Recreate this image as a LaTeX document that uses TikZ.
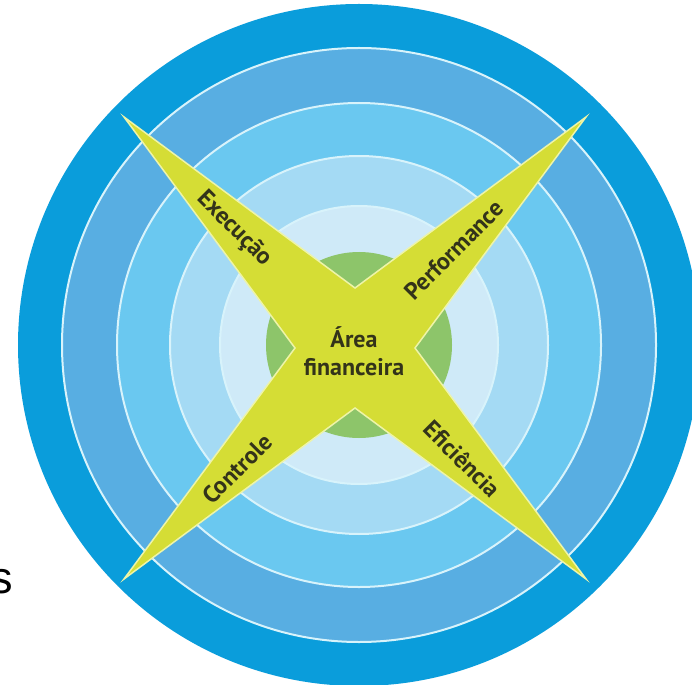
\documentclass[tikz,border=0pt]{standalone}
\usepackage{fontspec}
\newfontfamily\labelfont{PT Sans}
\newfontfamily\strayfont{Liberation Sans}
\definecolor{ringA}{HTML}{0A9DDB}
\definecolor{ringB}{HTML}{58AEE2}
\definecolor{ringC}{HTML}{6AC8F0}
\definecolor{ringD}{HTML}{A4DAF4}
\definecolor{ringE}{HTML}{CFEAF8}
\definecolor{ringLine}{HTML}{D8F3FB}
\definecolor{coreGreen}{HTML}{8DC56A}
\definecolor{starYellow}{HTML}{D5DD35}
\definecolor{starEdge}{HTML}{EEF4A8}
\definecolor{labelInk}{HTML}{33331A}
\begin{document}
\begin{tikzpicture}[x=1pt, y=-1pt,
    ring/.style={fill=#1, draw=ringLine, line width=2pt},
    armlabel/.style={text=labelInk, font=\labelfont\bfseries\fontsize{24}{28}\selectfont, inner sep=0pt}]
        \useasboundingbox[fill=white] (0,0) rectangle (692,684);
        % Define rings
        \fill[ringA] (359,345) circle (341);
        \foreach \r/\c in {297/ringB, 242/ringC, 189/ringD, 139/ringE}
            \draw[ring=\c] (359,345) circle (\r);
        \fill[coreGreen] (359,345) circle (93);

        % Draw star
        \draw[fill=starYellow, draw=starEdge, line width=1.5pt, line join=miter]
            (124,117) -- (355,288) -- (586,117) -- (415,348) -- (586,579)
            -- (355,408) -- (124,579) -- (295,348) -- cycle;

        % Define nodes
        \node (area) [armlabel, align=center] at (354,351) {Área\\financeira};
        \node (execucao) [armlabel, rotate=-45] at (234,229) {Execução};
        \node (performance) [armlabel, rotate=45] at (454,250) {Performance};
        \node (controle) [armlabel, rotate=45] at (237,469) {Controle};
        \node (eficiencia) [armlabel, rotate=-45] at (462,459) {Eficiência};
        \node (stray) [anchor=base east, inner sep=0pt, font=\strayfont\fontsize{45}{50}\selectfont] at (13.5,593) {s};
    \end{tikzpicture}
\end{document}
